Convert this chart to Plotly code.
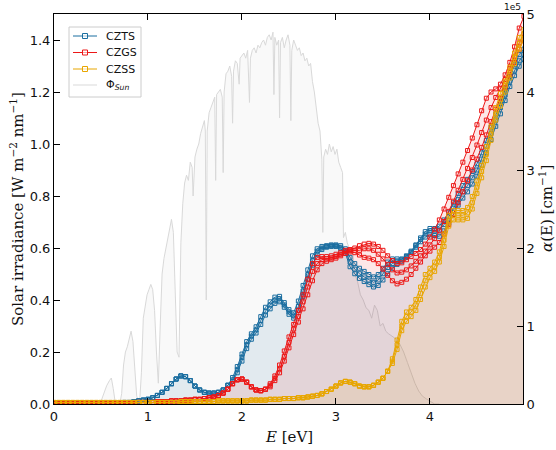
import numpy as np
import plotly.graph_objects as go

# ---------------- data ----------------
# photon energy grid [eV] for absorption spectra
E = np.round(np.arange(0, 5.0001, 0.05), 2)

# absorption coefficient alpha(E) in units of 1e5 cm^-1
CZTS_HEAD = [0.01, 0.01, 0.01, 0.01, 0.01, 0.01, 0.01, 0.01, 0.01, 0.01,
             0.01, 0.01, 0.01, 0.01, 0.01, 0.02, 0.02, 0.03, 0.04, 0.05,
             0.06, 0.08, 0.11, 0.15, 0.20, 0.26, 0.32, 0.36, 0.35, 0.30,
             0.23, 0.18, 0.15, 0.14, 0.14, 0.15, 0.18, 0.24]
CZTS_TAIL_1 = [0.34, 0.48, 0.64, 0.80, 0.90, 0.99, 1.12, 1.24, 1.31, 1.37,
               1.38, 1.30, 1.21, 1.17, 1.32, 1.52, 1.72, 1.90, 1.99, 2.02,
               2.03, 2.04, 2.04, 2.03, 1.99,
               1.88, 1.80, 1.74, 1.70, 1.66, 1.63, 1.66, 1.74, 1.82, 1.86,
               1.86, 1.86, 1.90, 1.96, 2.04, 2.13, 2.21, 2.25, 2.25, 2.28,
               2.36, 2.46, 2.58, 2.70, 2.80, 2.88, 2.98, 3.08, 3.22, 3.38,
               3.55, 3.72, 3.88, 4.04, 4.20, 4.35, 4.48, 4.55]
CZTS_TAIL_2 = [0.31, 0.44, 0.60, 0.76, 0.87, 0.95, 1.07, 1.19, 1.27, 1.33,
               1.35, 1.27, 1.18, 1.13, 1.25, 1.45, 1.66, 1.84, 1.96, 2.00,
               2.02, 2.03, 2.03, 2.01, 1.96,
               1.82, 1.73, 1.67, 1.63, 1.59, 1.56, 1.59, 1.67, 1.75, 1.80,
               1.83, 1.85, 1.89, 1.95, 2.03, 2.11, 2.18, 2.22, 2.22, 2.23,
               2.30, 2.40, 2.51, 2.62, 2.72, 2.80, 2.90, 3.00, 3.14, 3.30,
               3.47, 3.64, 3.80, 3.96, 4.14, 4.28, 4.40, 4.48]
CZTS_TAIL_3 = [0.29, 0.40, 0.55, 0.71, 0.83, 0.91, 1.02, 1.14, 1.22, 1.29,
               1.31, 1.24, 1.15, 1.10, 1.20, 1.38, 1.60, 1.78, 1.92, 1.98,
               2.01, 2.02, 2.02, 1.99, 1.93,
               1.76, 1.67, 1.61, 1.57, 1.53, 1.50, 1.52, 1.59, 1.67, 1.74,
               1.79, 1.83, 1.88, 1.94, 2.01, 2.08, 2.14, 2.17, 2.16, 2.15,
               2.22, 2.32, 2.43, 2.55, 2.64, 2.72, 2.82, 2.92, 3.06, 3.22,
               3.39, 3.56, 3.72, 3.89, 4.07, 4.21, 4.33, 4.42]

CZGS_HEAD = [0.01, 0.01, 0.01, 0.01, 0.01, 0.01, 0.01, 0.01, 0.01, 0.01,
             0.01, 0.01, 0.01, 0.01, 0.01, 0.01, 0.01, 0.01, 0.02, 0.02,
             0.02, 0.02, 0.03, 0.03, 0.03, 0.04, 0.04, 0.04, 0.05, 0.05,
             0.06, 0.06, 0.07, 0.08, 0.09, 0.11, 0.14, 0.19, 0.26, 0.31,
             0.32, 0.28, 0.22, 0.18, 0.17, 0.19]
CZGS_TAIL_1 = [0.26, 0.36, 0.50, 0.68, 0.86, 1.02, 1.20, 1.40, 1.60, 1.80,
               1.88, 1.89, 1.89, 1.90, 1.92, 1.94, 1.97, 1.98, 2.00, 2.03,
               2.05, 2.06, 2.05, 2.02, 1.97, 1.90, 1.84, 1.80, 1.81, 1.85,
               1.89, 1.93, 1.98, 2.05, 2.14, 2.24, 2.36, 2.50, 2.65, 2.80,
               2.95, 3.10, 3.25, 3.41, 3.58, 3.76, 3.92, 4.00, 4.04, 4.10,
               4.22, 4.38, 4.58, 4.82, 4.97]
CZGS_TAIL_2 = [0.24, 0.33, 0.45, 0.61, 0.79, 0.96, 1.12, 1.31, 1.50, 1.70,
               1.80, 1.85, 1.86, 1.87, 1.89, 1.92, 1.95, 1.97, 1.97, 1.97,
               1.99, 1.99, 1.97, 1.92, 1.86, 1.79, 1.72, 1.68, 1.69, 1.72,
               1.77, 1.83, 1.90, 1.96, 2.04, 2.12, 2.22, 2.34, 2.47, 2.60,
               2.74, 2.88, 3.02, 3.16, 3.32, 3.48, 3.64, 3.80, 3.93, 4.04,
               4.16, 4.30, 4.46, 4.63, 4.75]
CZGS_TAIL_3 = [0.22, 0.30, 0.40, 0.55, 0.72, 0.89, 1.05, 1.22, 1.40, 1.58,
               1.72, 1.80, 1.83, 1.85, 1.87, 1.90, 1.93, 1.95, 1.94, 1.91,
               1.88, 1.87, 1.85, 1.80, 1.73, 1.65, 1.58, 1.54, 1.56, 1.60,
               1.66, 1.74, 1.82, 1.90, 1.96, 2.01, 2.07, 2.18, 2.30, 2.43,
               2.58, 2.72, 2.86, 3.00, 3.14, 3.29, 3.45, 3.62, 3.78, 3.92,
               4.06, 4.22, 4.38, 4.55, 4.68]

CZSS_HEAD = [0.02, 0.02, 0.02, 0.02, 0.02, 0.02, 0.02, 0.02, 0.02, 0.02,
             0.02, 0.02, 0.02, 0.02, 0.02, 0.02, 0.02, 0.02, 0.02, 0.02,
             0.02, 0.02, 0.02, 0.02, 0.02, 0.02, 0.02, 0.03, 0.03, 0.03,
             0.03, 0.03, 0.03, 0.03, 0.03, 0.04, 0.04, 0.04, 0.04, 0.04,
             0.04, 0.04, 0.05, 0.05, 0.05, 0.05, 0.06, 0.06, 0.06, 0.07,
             0.07, 0.07, 0.08, 0.08, 0.09, 0.10, 0.11, 0.13, 0.16, 0.19,
             0.23, 0.27, 0.29, 0.28, 0.26, 0.23, 0.22, 0.22, 0.24, 0.28,
             0.33, 0.42]
CZSS_TAIL_1 = [0.58, 0.82, 1.06, 1.18, 1.24, 1.34, 1.50, 1.66, 1.74, 1.82,
               1.95, 2.18, 2.42, 2.48, 2.48, 2.48, 2.52, 2.66, 2.86, 3.06,
               3.30, 3.56, 3.80, 3.98, 4.14, 4.32, 4.50, 4.70, 4.80]
CZSS_TAIL_2 = [0.55, 0.76, 1.00, 1.12, 1.18, 1.27, 1.42, 1.58, 1.68, 1.76,
               1.88, 2.10, 2.35, 2.42, 2.42, 2.42, 2.45, 2.58, 2.78, 2.98,
               3.20, 3.46, 3.72, 3.90, 4.08, 4.26, 4.44, 4.62, 4.74]
CZSS_TAIL_3 = [0.52, 0.70, 0.94, 1.06, 1.12, 1.20, 1.34, 1.50, 1.62, 1.70,
               1.82, 2.02, 2.28, 2.36, 2.36, 2.36, 2.38, 2.50, 2.70, 2.90,
               3.12, 3.38, 3.64, 3.82, 4.00, 4.18, 4.36, 4.55, 4.68]

# solar spectrum (AM1.5): energy [eV] and irradiance [W m^-2 nm^-1]
SUN_E = [0.30, 0.45, 0.50, 0.53, 0.56, 0.59, 0.61, 0.63, 0.65, 0.70,
         0.72, 0.74, 0.76, 0.78, 0.80, 0.82, 0.84, 0.86, 0.88, 0.91,
         0.93, 0.95, 0.97, 0.99, 1.01, 1.03, 1.05, 1.07, 1.09, 1.11,
         1.13, 1.15, 1.17, 1.19, 1.21, 1.23, 1.25, 1.27, 1.29, 1.31,
         1.33, 1.35, 1.37, 1.39, 1.41, 1.43, 1.45, 1.47, 1.48, 1.50,
         1.52, 1.54, 1.56, 1.58, 1.60, 1.61, 1.62, 1.63, 1.65, 1.67,
         1.69, 1.71, 1.72, 1.73, 1.75, 1.77, 1.79, 1.80, 1.81, 1.83,
         1.85, 1.87, 1.89, 1.90, 1.91, 1.93, 1.95, 1.97, 1.98, 2.00,
         2.02, 2.04, 2.06, 2.08, 2.09, 2.11, 2.13, 2.15, 2.17, 2.19,
         2.21, 2.23, 2.25, 2.27, 2.29, 2.31, 2.33, 2.34, 2.35, 2.37,
         2.39, 2.40, 2.41, 2.43, 2.45, 2.47, 2.49, 2.51, 2.52, 2.53,
         2.55, 2.57, 2.59, 2.61, 2.63, 2.65, 2.67, 2.69, 2.71, 2.73,
         2.75, 2.77, 2.79, 2.81, 2.83, 2.85, 2.86, 2.87, 2.89, 2.91,
         2.93, 2.95, 2.97, 2.99, 3.01, 3.03, 3.05, 3.07, 3.08, 3.10,
         3.12, 3.14, 3.16, 3.18, 3.20, 3.23, 3.26, 3.29, 3.32, 3.35,
         3.38, 3.41, 3.44, 3.47, 3.50, 3.53, 3.56, 3.60, 3.64, 3.68,
         3.72, 3.76, 3.80, 3.84, 3.88, 3.92, 3.96, 4.00, 4.05, 4.10]
SUN_IRR = [0.00, 0.00, 0.01, 0.04, 0.07, 0.09, 0.10, 0.06, 0.01, 0.00,
           0.04, 0.15, 0.20, 0.22, 0.25, 0.28, 0.24, 0.12, 0.03, 0.00,
           0.12, 0.33, 0.38, 0.42, 0.44, 0.46, 0.44, 0.36, 0.20, 0.08,
           0.30, 0.50, 0.56, 0.60, 0.64, 0.67, 0.71, 0.66, 0.45, 0.20,
           0.18, 0.62, 0.77, 0.85, 0.88, 0.86, 0.93, 0.91, 0.80, 0.95,
           0.98, 1.00, 1.04, 1.07, 1.09, 1.05, 0.40, 1.05, 1.12, 1.14,
           1.16, 1.18, 0.86, 1.19, 1.20, 1.21, 1.18, 0.89, 1.20, 1.27,
           1.28, 1.30, 1.26, 1.08, 1.28, 1.32, 1.31, 1.23, 1.33, 1.34,
           1.35, 1.33, 1.36, 1.16, 1.33, 1.36, 1.37, 1.35, 1.38, 1.37,
           1.39, 1.40, 1.38, 1.41, 1.42, 1.40, 1.43, 1.19, 1.41, 1.38,
           1.40, 1.10, 1.39, 1.41, 1.37, 1.40, 1.42, 1.38, 1.09, 1.36,
           1.40, 1.38, 1.36, 1.37, 1.34, 1.35, 1.32, 1.33, 1.30, 1.31,
           1.24, 1.20, 1.14, 1.08, 1.05, 0.94, 0.66, 0.95, 0.98, 0.96,
           1.00, 0.97, 0.99, 0.96, 0.98, 0.93, 0.91, 0.89, 0.64, 0.66,
           0.62, 0.60, 0.56, 0.58, 0.50, 0.47, 0.42, 0.40, 0.37, 0.36,
           0.33, 0.38, 0.36, 0.30, 0.31, 0.28, 0.27, 0.26, 0.25, 0.23,
           0.20, 0.16, 0.12, 0.08, 0.05, 0.03, 0.02, 0.01, 0.00, 0.00]

MATERIALS = ["CZTS", "CZGS", "CZSS"]
SERIES = {
    "CZTS": [CZTS_HEAD + CZTS_TAIL_1, CZTS_HEAD + CZTS_TAIL_2, CZTS_HEAD + CZTS_TAIL_3],
    "CZGS": [CZGS_HEAD + CZGS_TAIL_1, CZGS_HEAD + CZGS_TAIL_2, CZGS_HEAD + CZGS_TAIL_3],
    "CZSS": [CZSS_HEAD + CZSS_TAIL_1, CZSS_HEAD + CZSS_TAIL_2, CZSS_HEAD + CZSS_TAIL_3],
}
COLORS = {"CZTS": (27, 110, 160), "CZGS": (236, 24, 24), "CZSS": (232, 166, 0)}
SUN_COLOR = "#d9d9d9"

# ---------------- figure ----------------
W, H = 556, 450
L, R, T, B = 54, 33, 14, 46
PW, PH = W - L - R, H - T - B


def px(xp):
    return (xp - L) / PW


def py(yp):
    return (H - B - yp) / PH


fig = go.Figure()

# solar spectrum (left axis)
fig.add_trace(go.Scatter(x=SUN_E, y=SUN_IRR, mode="lines",
                         line=dict(color=SUN_COLOR, width=1),
                         fill="tozeroy", fillcolor="rgba(200,200,200,0.10)",
                         showlegend=False, yaxis="y", hoverinfo="skip"))

# fills (right axis)
for m in MATERIALS:
    r, g, b = COLORS[m]
    fig.add_trace(go.Scatter(x=E, y=SERIES[m][0], mode="none",
                             fill="tozeroy", fillcolor=f"rgba({r},{g},{b},0.10)",
                             showlegend=False, yaxis="y2", hoverinfo="skip"))

# lines with open square markers
for m in MATERIALS:
    r, g, b = COLORS[m]
    c = f"rgb({r},{g},{b})"
    for ys in SERIES[m]:
        fig.add_trace(go.Scatter(x=E, y=ys, mode="lines+markers",
                                 line=dict(color=c, width=1),
                                 marker=dict(symbol="square-open", size=4,
                                             color=c, line=dict(width=1, color=c)),
                                 showlegend=False, yaxis="y2", name=m))

tickfont = dict(family="DejaVu Sans", size=13, color="#111")
axis_common = dict(ticks="inside", ticklen=6, tickwidth=1, tickcolor="black",
                   showline=True, linecolor="black", linewidth=1,
                   showgrid=False, zeroline=False, tickfont=tickfont, automargin=False)
fig.update_layout(
    width=W, height=H,
    margin=dict(l=L, r=R, t=T, b=B, autoexpand=False),
    paper_bgcolor="white", plot_bgcolor="white",
    showlegend=False,
    xaxis=dict(range=[0, 4.99], tickvals=[0, 1, 2, 3, 4], ticktext=["0", "1", "2", "3", "4"],
               mirror="ticks", **axis_common),
    yaxis=dict(range=[0, 1.5], tickvals=[0, 0.2, 0.4, 0.6, 0.8, 1.0, 1.2, 1.4],
               tickformat=".1f", **axis_common),
    yaxis2=dict(range=[0, 5], tickvals=[0, 1, 2, 3, 4, 5], overlaying="y", side="right",
                **axis_common),
)

serif = "DejaVu Serif"
annotations = [
    dict(text="Solar irradiance [W m<sup>−2</sup> nm<sup>−1</sup>]", x=0, y=0.5,
         xref="paper", yref="paper", xanchor="center", yanchor="middle",
         xshift=17 - L, textangle=-90, showarrow=False,
         font=dict(family=serif, size=15, color="#111")),
    dict(text="<i>α</i>(E) [cm<sup>−1</sup>]", x=1, y=0.5,
         xref="paper", yref="paper", xanchor="center", yanchor="middle",
         xshift=546 - (W - R), textangle=-90, showarrow=False,
         font=dict(family=serif, size=15, color="#111")),
    dict(text="<i>E</i> [eV]", x=0.5, y=0, xref="paper", yref="paper",
         xanchor="center", yanchor="middle", yshift=-(437 - (H - B)), showarrow=False,
         font=dict(family=serif, size=15, color="#111")),
    dict(text="1e5", x=1, y=1, xref="paper", yref="paper", xanchor="right",
         yanchor="bottom", showarrow=False, yshift=0,
         font=dict(family="DejaVu Sans", size=9, color="#111")),
]

# manual legend
shapes = [dict(type="rect", xref="paper", yref="paper",
               x0=px(69), x1=px(141), y0=py(97), y1=py(27),
               line=dict(color="#cccccc", width=1), fillcolor="rgba(255,255,255,0.85)",
               layer="above")]
legend_items = [("CZTS", COLORS["CZTS"], True), ("CZGS", COLORS["CZGS"], True),
                ("CZSS", COLORS["CZSS"], True), ("Φ<sub><i>Sun</i></sub>", None, False)]
row_y = [36, 52.5, 69, 85]
for (label, col, mk), yy in zip(legend_items, row_y):
    c = f"rgb({col[0]},{col[1]},{col[2]})" if col else SUN_COLOR
    shapes.append(dict(type="line", xref="paper", yref="paper",
                       x0=px(73), x1=px(97), y0=py(yy), y1=py(yy),
                       line=dict(color=c, width=1), layer="above"))
    if mk:
        shapes.append(dict(type="rect", xref="paper", yref="paper",
                           x0=px(82.5), x1=px(87.5), y0=py(yy + 2.5), y1=py(yy - 2.5),
                           line=dict(color=c, width=1), fillcolor="rgba(255,255,255,0.6)",
                           layer="above"))
    annotations.append(dict(text=label, x=px(104), y=py(yy), xref="paper", yref="paper",
                            xanchor="left", yanchor="middle", showarrow=False,
                            font=dict(family="DejaVu Sans", size=11, color="#111")))

fig.update_layout(annotations=annotations, shapes=shapes)
fig.write_html("out.html", config={"displayModeBar": False},
               post_script="document.body.style.margin='0';document.body.style.padding='0';")
